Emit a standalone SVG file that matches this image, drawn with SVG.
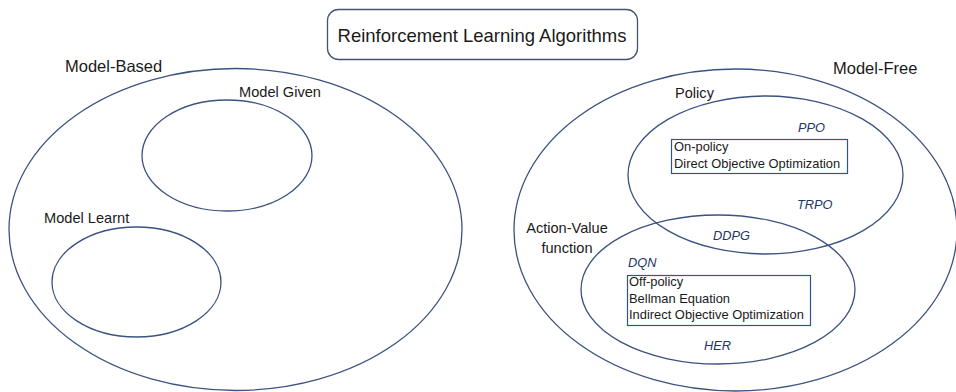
<svg xmlns="http://www.w3.org/2000/svg" width="956" height="392" viewBox="0 0 956 392">
<style>
text{font-family:"Liberation Sans",Arial,sans-serif;fill:#1a1a1a}
.set{fill:none;stroke:#3b5281;stroke-width:1.3}
.box{fill:#fff;stroke:#2f5590;stroke-width:1.2}
.lbl{font-size:16.5px}
.sub{font-size:14.6px}
.alg{font-size:12.8px;font-style:italic;fill:#1f3763}
.note{font-size:12.9px}
</style>
<rect width="956" height="392" fill="#fff"/>
<g id="title">
<rect x="327.5" y="9.5" width="310" height="50" rx="11" fill="#fff" stroke="#46556e" stroke-width="1.3"/>
<text x="482" y="42" text-anchor="middle" style="font-size:18.5px">Reinforcement Learning Algorithms</text>
</g>
<g id="model-based">
<ellipse class="set" cx="235.5" cy="229.5" rx="226.5" ry="161"/>
<text class="lbl" x="65" y="72">Model-Based</text>
</g>
<g id="model-given">
<ellipse class="set" cx="227" cy="155.5" rx="85" ry="55.5"/>
<text class="sub" x="239" y="97">Model Given</text>
</g>
<g id="model-learnt">
<ellipse class="set" cx="136.5" cy="282" rx="84.5" ry="55"/>
<text class="sub" x="44" y="223">Model Learnt</text>
</g>
<g id="model-free">
<ellipse class="set" cx="735.5" cy="230" rx="221.5" ry="161"/>
<text class="lbl" x="833" y="74">Model-Free</text>
</g>
<g id="policy">
<ellipse class="set" cx="765.5" cy="175" rx="137.5" ry="79"/>
<text class="sub" x="675" y="98">Policy</text>
<text class="alg" x="798" y="132">PPO</text>
<rect class="box" x="671.5" y="139.5" width="176" height="34"/>
<text class="note" x="674" y="151">On-policy</text>
<text class="note" x="674" y="168">Direct Objective Optimization</text>
<text class="alg" x="797" y="209">TRPO</text>
</g>
<g id="action-value">
<ellipse class="set" cx="718" cy="289.5" rx="137" ry="74.5"/>
<text class="sub" x="567" y="233" text-anchor="middle">Action-Value</text>
<text class="sub" x="567" y="253" text-anchor="middle">function</text>
<text class="alg" x="628" y="267">DQN</text>
<rect class="box" x="627.5" y="275.5" width="183" height="50"/>
<text class="note" x="629" y="286">Off-policy</text>
<text class="note" x="629" y="303">Bellman Equation</text>
<text class="note" x="629" y="319">Indirect Objective Optimization</text>
<text class="alg" x="704" y="350">HER</text>
</g>
<g id="ddpg">
<text class="alg" x="713" y="240">DDPG</text>
</g>
</svg>
